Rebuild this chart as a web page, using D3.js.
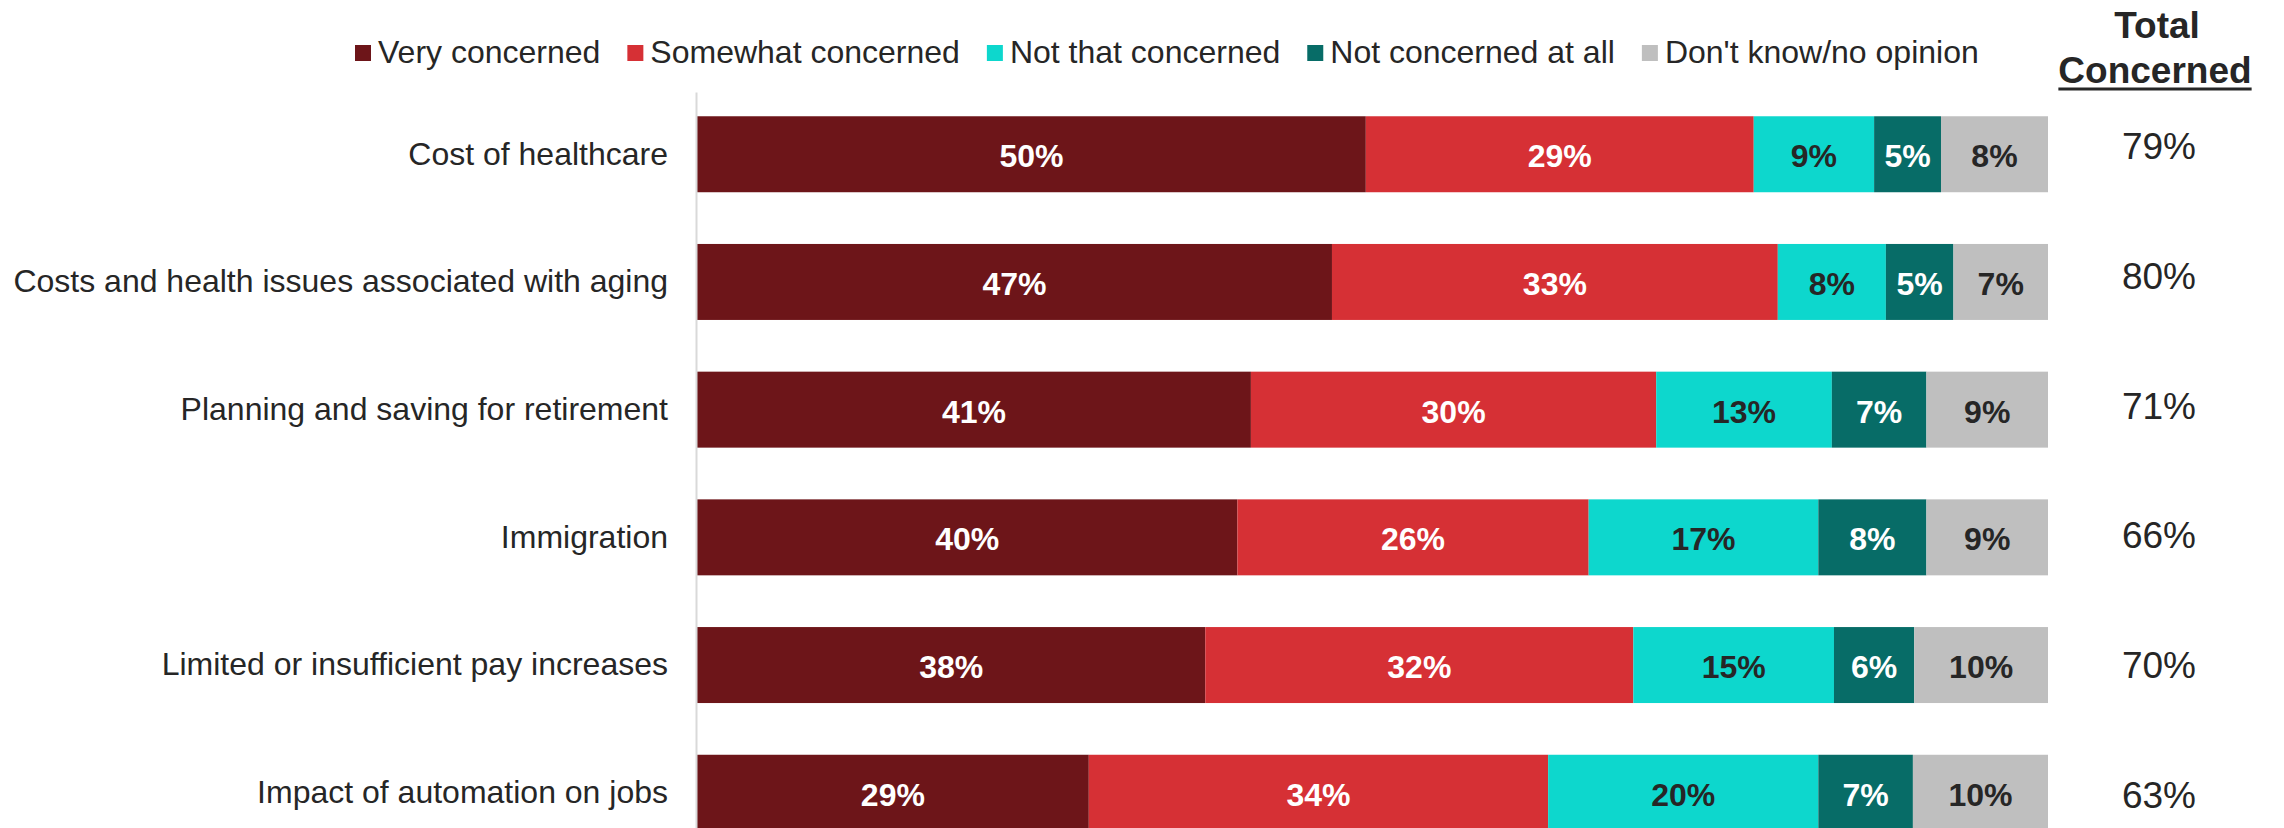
<!DOCTYPE html>
<html>
<head>
<meta charset="utf-8">
<script src="https://cdn.jsdelivr.net/npm/d3@7"></script>
<style>
  body { margin: 0; background: #fff; }
  svg { display: block; font-family: "Liberation Sans", Arial, sans-serif; }
</style>
</head>
<body>
<div id="chart"></div>
<script>
// data
const categories = [
  "Cost of healthcare",
  "Costs and health issues associated with aging",
  "Planning and saving for retirement",
  "Immigration",
  "Limited or insufficient pay increases",
  "Impact of automation on jobs"
];
const seriesNames = ["Very concerned", "Somewhat concerned", "Not that concerned", "Not concerned at all", "Don't know/no opinion"];
const veryConcerned     = [50, 47, 41, 40, 38, 29];
const somewhatConcerned = [29, 33, 30, 26, 32, 34];
const notThatConcerned  = [9, 8, 13, 17, 15, 20];
const notConcernedAtAll = [5, 5, 7, 8, 6, 7];
const dontKnow          = [8, 7, 9, 9, 10, 10];
const totalConcerned    = [79, 80, 71, 66, 70, 63];

const colors = ["#6d1519", "#d63035", "#0dd7cd", "#076c67", "#bfbfbf"];
const labelColors = ["#fff", "#fff", "#262626", "#fff", "#262626"];

const width = 2284, height = 828;
const textColor = "#262626";

const rows = categories.map((c, i) => ({
  category: c,
  [seriesNames[0]]: veryConcerned[i],
  [seriesNames[1]]: somewhatConcerned[i],
  [seriesNames[2]]: notThatConcerned[i],
  [seriesNames[3]]: notConcernedAtAll[i],
  [seriesNames[4]]: dontKnow[i]
}));

const stacked = d3.stack().keys(seriesNames).offset(d3.stackOffsetExpand)(rows);

const svg = d3.select("#chart").append("svg")
    .attr("width", width)
    .attr("height", height)
    .style("overflow", "hidden");

const x = d3.scaleLinear().domain([0, 1]).range([697, 2048]);
const y = d3.scaleBand().domain(categories).range([92, 855]).paddingInner(0.405).paddingOuter(0.19);
const yTotal = d3.scalePoint().domain(categories).range([146, 795]);
const color = d3.scaleOrdinal().domain(seriesNames).range(colors);

// bars
const layers = svg.append("g")
  .selectAll("g")
  .data(stacked)
  .join("g")
    .attr("fill", d => color(d.key));

layers.selectAll("rect")
  .data(d => d)
  .join("rect")
    .attr("x", d => x(d[0]))
    .attr("y", d => y(d.data.category))
    .attr("width", d => x(d[1]) - x(d[0]))
    .attr("height", y.bandwidth());

// segment labels
layers.each(function(layer, k) {
  d3.select(this).selectAll("text")
    .data(layer)
    .join("text")
      .attr("x", d => (x(d[0]) + x(d[1])) / 2)
      .attr("y", d => y(d.data.category) + y.bandwidth() / 2 + 13)
      .attr("text-anchor", "middle")
      .attr("font-size", "32px")
      .attr("font-weight", "bold")
      .attr("fill", labelColors[k])
      .text(d => d.data[layer.key] + "%");
});

// category axis
svg.append("g")
    .attr("transform", "translate(696,0)")
    .call(d3.axisLeft(y).tickSize(0).tickPadding(28))
    .call(g => g.select(".domain").attr("stroke", "#d9d9d9").attr("stroke-width", 2))
    .call(g => g.selectAll(".tick text")
      .attr("font-size", "32px")
      .attr("font-family", "Liberation Sans, Arial, sans-serif")
      .attr("fill", textColor));

// legend
const legend = svg.append("g");
let lx = 355;
seriesNames.forEach((name, i) => {
  legend.append("rect")
      .attr("x", lx)
      .attr("y", 45)
      .attr("width", 16)
      .attr("height", 16)
      .attr("fill", colors[i]);
  const t = legend.append("text")
      .attr("x", lx + 23)
      .attr("y", 63)
      .attr("font-size", "32px")
      .attr("fill", textColor)
      .text(name);
  lx += 23 + t.node().getComputedTextLength() + 27;
});

// total concerned column
const head = svg.append("g").attr("font-weight", "bold").attr("font-size", "37px").attr("fill", textColor);
head.append("text")
    .attr("x", 2157)
    .attr("y", 38)
    .attr("text-anchor", "middle")
    .text("Total");
const conc = head.append("text")
    .attr("x", 2155)
    .attr("y", 83)
    .attr("text-anchor", "middle")
    .text("Concerned");
const cw = conc.node().getComputedTextLength();
svg.append("line")
    .attr("x1", 2155 - cw / 2)
    .attr("x2", 2155 + cw / 2)
    .attr("y1", 89)
    .attr("y2", 89)
    .attr("stroke", textColor)
    .attr("stroke-width", 3);

svg.append("g")
  .selectAll("text")
  .data(categories)
  .join("text")
    .attr("x", 2159)
    .attr("y", d => yTotal(d) + 13)
    .attr("text-anchor", "middle")
    .attr("font-size", "37px")
    .attr("fill", textColor)
    .text((d, i) => totalConcerned[i] + "%");
</script>
</body>
</html>
